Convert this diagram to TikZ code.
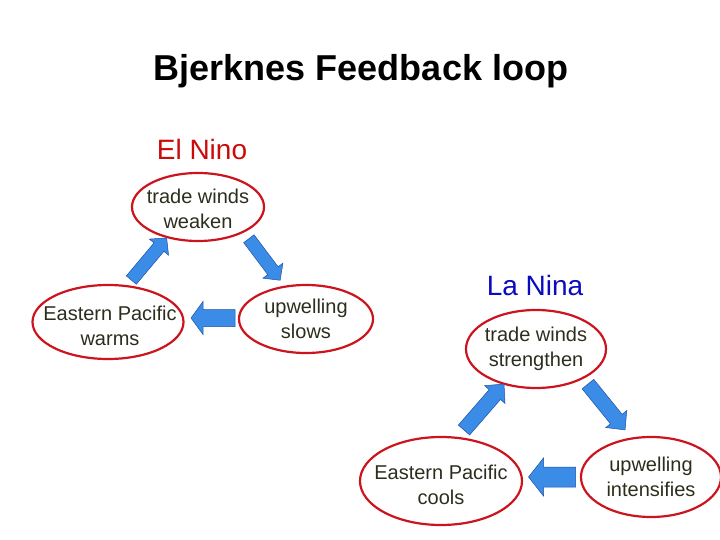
\documentclass[tikz,border=0pt]{standalone}
\usepackage{fontspec}
\setmainfont{Liberation Sans}
\usetikzlibrary{shapes.geometric}
\definecolor{ringred}{RGB}{204,20,30}
\definecolor{txtdark}{RGB}{45,45,30}
\definecolor{arrfill}{RGB}{58,140,230}
\definecolor{arrline}{RGB}{30,80,170}
\definecolor{ninored}{RGB}{204,10,10}
\definecolor{ninablue}{RGB}{10,10,190}
\tikzset{
  ring/.style={ellipse, draw=ringred, line width=2.2pt, inner sep=0pt},
  ringtext/.style={font=\fontsize{20}{24.5}\selectfont, text=txtdark, align=center, inner sep=0pt},
  blockarrow/.style={fill=arrfill, draw=arrline, line width=0.5pt, line join=miter},
}
% #1 centre, #2 angle, #3 length, #4 shaft width, #5 head width, #6 head length, #7 tip name
\newcommand\myblockarrow[7]{%
  \begin{scope}[shift={#1}, rotate=#2]
    \draw[blockarrow] (-#3/2 pt, #4/2 pt) -- (#3/2 pt-#6 pt, #4/2 pt) -- (#3/2 pt-#6 pt, #5/2 pt)
      -- (#3/2 pt, 0pt) coordinate (#7)
      -- (#3/2 pt-#6 pt, -#5/2 pt) -- (#3/2 pt-#6 pt, -#4/2 pt) -- (-#3/2 pt, -#4/2 pt) -- cycle;
  \end{scope}}
\begin{document}
\begin{tikzpicture}[x=1pt,y=-1pt]
\useasboundingbox (0,0) rectangle (720,540);
\node[font=\bfseries\fontsize{36}{40}\selectfont, text=black] (title) at (361,71) {Bjerknes Feedback loop};
\node[font=\fontsize{28}{32}\selectfont, text=ninored] (elnino) at (202,149) {El Nino};
\node[font=\fontsize{28}{32}\selectfont, text=ninablue] (lanina) at (535,285) {La Nina};

% El Nino loop
\node[ring, minimum width=132pt, minimum height=68pt] (tw) at (198,207) {};
\node[ringtext, yshift=-2pt] (twt) at (tw) {trade winds\\weaken};
\node[ring, minimum width=151pt, minimum height=74pt] (ep) at (108,322) {};
\node[ringtext, yshift=-4pt, xshift=2pt] (ept) at (ep) {Eastern Pacific\\warms};
\node[ring, minimum width=134pt, minimum height=68pt] (up) at (306,319) {};
\node[ringtext] (upt) at (up) {upwelling\\slows};

\myblockarrow{(149,259)}{50}{55}{13}{25}{12}{a1}
\myblockarrow{(264.5,259.5)}{-53}{52}{13}{25}{12}{a2}
\myblockarrow{(213,318)}{180}{44}{17}{33}{12}{a3}

% La Nina loop
\node[ring, minimum width=140pt, minimum height=78pt] (tw2) at (536,349) {};
\node[ringtext] (tw2t) at (tw2) {trade winds\\strengthen};
\node[ring, minimum width=162pt, minimum height=88pt] (ep2) at (441,481) {};
\node[ringtext, yshift=-4pt] (ep2t) at (ep2) {Eastern Pacific\\cools};
\node[ring, minimum width=140pt, minimum height=80pt] (up2) at (651,477) {};
\node[ringtext] (up2t) at (up2) {upwelling\\intensifies};

\myblockarrow{(484,407)}{49}{61}{15}{27}{14}{b1}
\myblockarrow{(606.5,407)}{-51}{59}{15}{27}{14}{b2}
\myblockarrow{(552,477)}{180}{47}{20}{38}{15}{b3}
\end{tikzpicture}
\end{document}
